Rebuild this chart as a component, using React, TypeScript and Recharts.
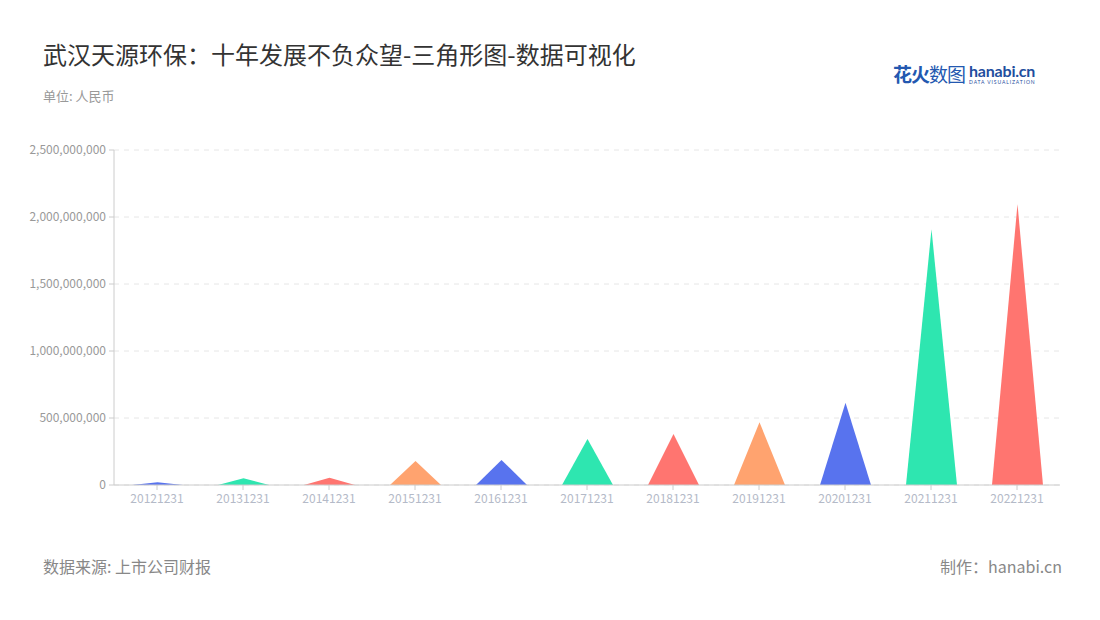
import React from "react";
import { BarChart, Bar, XAxis, YAxis, CartesianGrid, Cell } from "recharts";

const years = [
  "20121231", "20131231", "20141231", "20151231", "20161231", "20171231",
  "20181231", "20191231", "20201231", "20211231", "20221231",
];
const revenue = [
  20e6, 50e6, 54e6, 179e6, 187e6, 343e6, 381e6, 468e6, 614e6, 1908e6, 2097e6,
];
const yTicks = [0, 500e6, 1000e6, 1500e6, 2000e6, 2500e6];
const palette = ["#5873ee", "#2ee6b0", "#ff7570", "#ffa36f"];

const data = years.map((y, i) => ({ year: y, value: revenue[i] }));

const font = '"Noto Sans CJK SC", "Noto Sans", sans-serif';

function Triangle(props: any) {
  const { x, y, width, height, fill } = props;
  if (!height || height <= 0) return null;
  const d = `M${x},${y + height} L${x + width / 2},${y} L${x + width},${y + height} Z`;
  return <path d={d} fill={fill} />;
}

export default function App() {
  return (
    <div style={{ position: "absolute", left: 0, top: 0, width: 1100, height: 620, background: "#fff", fontFamily: font }}>
      <div style={{ position: "absolute", left: 43, top: 38, fontSize: 24, color: "#333", lineHeight: "32px", whiteSpace: "nowrap" }}>
        武汉天源环保：十年发展不负众望-三角形图-数据可视化
      </div>
      <div style={{ position: "absolute", left: 43, top: 87, fontSize: 13, color: "#999", lineHeight: "18px" }}>
        单位: 人民币
      </div>
      <div style={{ position: "absolute", left: 893, top: 60, display: "flex", alignItems: "center", whiteSpace: "nowrap" }}>
        <span style={{ fontSize: 19, color: "#2358b0", letterSpacing: -1 }}>
          <b>花火</b>数图
        </span>
        <span style={{ display: "inline-block", marginLeft: 4 }}>
          <span style={{ display: "block", fontSize: 16, lineHeight: "15px", fontWeight: 700, color: "#1f4e9e", fontFamily: "Lato, sans-serif", letterSpacing: -0.2 }}>hanabi.cn</span>
          <span style={{ display: "block", fontSize: 5, lineHeight: "6px", marginTop: 1, color: "#1f4e9e", fontFamily: "Lato, sans-serif", letterSpacing: 0.9 }}>DATA VISUALIZATION</span>
        </span>
      </div>

      <div style={{ position: "absolute", left: 0, top: 0 }}>
        <BarChart
          width={1100}
          height={620}
          data={data}
          margin={{ top: 150, right: 40, bottom: 105, left: 0 }}
          barSize={51}
        >
          <CartesianGrid vertical={false} stroke="#e6e6e6" strokeDasharray="5 5" />
          <XAxis
            dataKey="year"
            stroke="#ccc"
            tick={{ fontSize: 12, fill: "#b4bac8", fontFamily: font }}
            tickSize={5}
            tickMargin={4}
            interval={0}
            height={30}
          />
          <YAxis
            width={114}
            domain={[0, 2500e6]}
            ticks={yTicks}
            stroke="#ccc"
            tick={{ fontSize: 12, fill: "#999", fontFamily: font }}
            tickSize={5}
            tickMargin={3}
            tickFormatter={(v: number) => v.toLocaleString("en-US")}
            interval={0}
          />
          <Bar dataKey="value" shape={<Triangle />} isAnimationActive={false}>
            {data.map((_, i) => (
              <Cell key={i} fill={palette[i % palette.length]} />
            ))}
          </Bar>
        </BarChart>
      </div>

      <div style={{ position: "absolute", left: 43, top: 555, fontSize: 16, color: "#888", lineHeight: "22px" }}>
        数据来源: 上市公司财报
      </div>
      <div style={{ position: "absolute", right: 38, top: 555, fontSize: 16, color: "#888", lineHeight: "22px", whiteSpace: "nowrap" }}>
        制作：hanabi.cn
      </div>
    </div>
  );
}
